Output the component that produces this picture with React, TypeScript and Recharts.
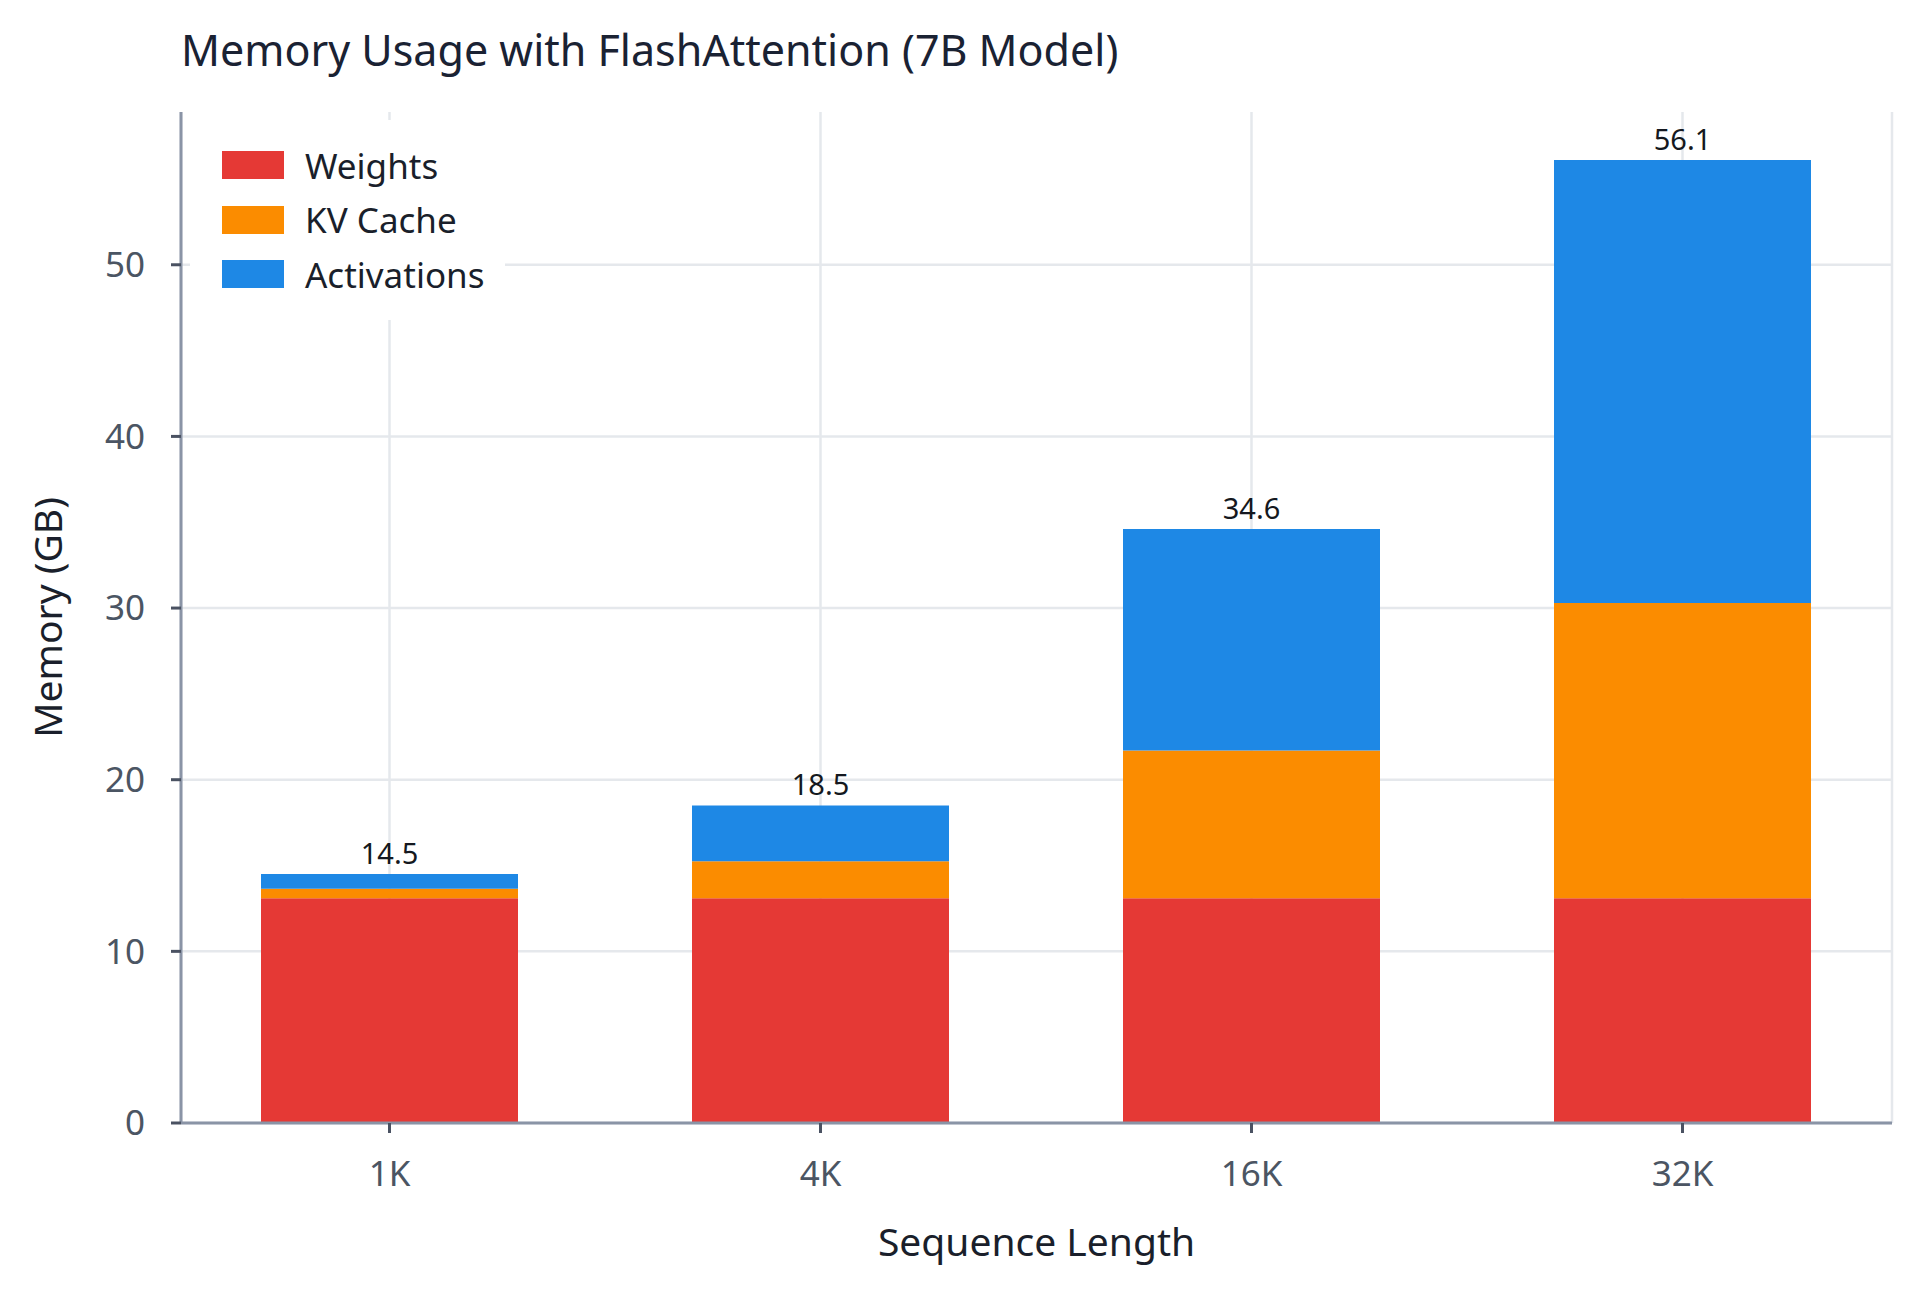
import React from 'react'
import { BarChart, Bar, XAxis, YAxis, CartesianGrid, Legend, LabelList } from 'recharts'

const seqLengths = ['1K', '4K', '16K', '32K']
const weights = [13.1, 13.1, 13.1, 13.1]
const kvCache = [0.54, 2.15, 8.6, 17.2]
const activations = [0.86, 3.25, 12.9, 25.8]
const totals = [14.5, 18.5, 34.6, 56.1]
const yTicks = [0, 10, 20, 30, 40, 50]
const legendOrder = ['Weights', 'KV Cache', 'Activations']

const FONT = '"Noto Sans", "DejaVu Sans", sans-serif'

const data = seqLengths.map((s, i) => ({
  seq: s,
  weights: weights[i],
  kv: kvCache[i],
  act: activations[i],
  total: totals[i],
}))

const renderLegend = (props: any) => {
  const items = [...(props.payload || [])].sort(
    (a: any, b: any) => legendOrder.indexOf(a.value) - legendOrder.indexOf(b.value)
  )
  return (
    <div
      style={{
        background: '#fff',
        width: 315,
        padding: '18px 0 18px 32px',
        boxSizing: 'border-box',
        fontFamily: FONT,
      }}
    >
      {items.map((entry: any) => (
        <div key={entry.value} style={{ display: 'flex', alignItems: 'center', height: 54.5 }}>
          <div style={{ width: 62, height: 28, background: entry.color, marginRight: 21 }} />
          <span style={{ fontSize: 35, color: '#1a1f2b' }}>{entry.value}</span>
        </div>
      ))}
    </div>
  )
}

const App: React.FC = () => {
  return (
    <div style={{ position: 'absolute', left: 0, top: 0, width: 1920, height: 1292, background: '#fff' }}>
      <div
        style={{
          position: 'absolute',
          left: 181,
          top: 22,
          fontFamily: FONT,
          fontSize: 43,
          color: '#1a2233',
          lineHeight: '56px',
        }}
      >
        Memory Usage with FlashAttention (7B Model)
      </div>
      <BarChart
        width={1920}
        height={1292}
        data={data}
        margin={{ top: 112, right: 28, left: 0, bottom: 0 }}
        style={{ fontFamily: FONT }}
      >
        <CartesianGrid stroke="#e5e8ec" strokeWidth={2.5} vertical horizontal horizontalValues={yTicks} />
        <XAxis
          dataKey="seq"
          height={169}
          padding={{ left: -7, right: -6 }}
          axisLine={{ stroke: '#8a94a6', strokeWidth: 3 }}
          tickLine={{ stroke: '#4a5262', strokeWidth: 3 }}
          tickSize={10}
          tickMargin={28}
          tick={{ fill: '#4b5563', fontSize: 35 }}
          label={{ value: 'Sequence Length', position: 'insideBottom', offset: 36, fill: '#1a1f2b', fontSize: 39 }}
        />
        <YAxis
          width={181}
          domain={[0, 58.9]}
          ticks={yTicks}
          allowDataOverflow
          axisLine={{ stroke: '#8a94a6', strokeWidth: 3 }}
          tickLine={{ stroke: '#4a5262', strokeWidth: 3 }}
          tickSize={10}
          tickMargin={26}
          tick={{ fill: '#4b5563', fontSize: 35 }}
          label={{ value: 'Memory (GB)', angle: -90, position: 'insideLeft', offset: 48, fill: '#1a1f2b', fontSize: 39, style: { textAnchor: 'middle' } }}
        />
        <Legend
          layout="vertical"
          align="center"
          verticalAlign="middle"
          content={renderLegend}
          wrapperStyle={{ left: 190, top: 120, width: 315 }}
        />
        <Bar dataKey="weights" name="Weights" stackId="m" fill="#e53935" barSize={257} isAnimationActive={false} />
        <Bar dataKey="kv" name="KV Cache" stackId="m" fill="#fb8c00" barSize={257} isAnimationActive={false} />
        <Bar dataKey="act" name="Activations" stackId="m" fill="#1e88e5" barSize={257} isAnimationActive={false}>
          <LabelList dataKey="total" position="top" offset={10} fill="#141820" fontSize={29} />
        </Bar>
      </BarChart>
    </div>
  )
}

export default App
